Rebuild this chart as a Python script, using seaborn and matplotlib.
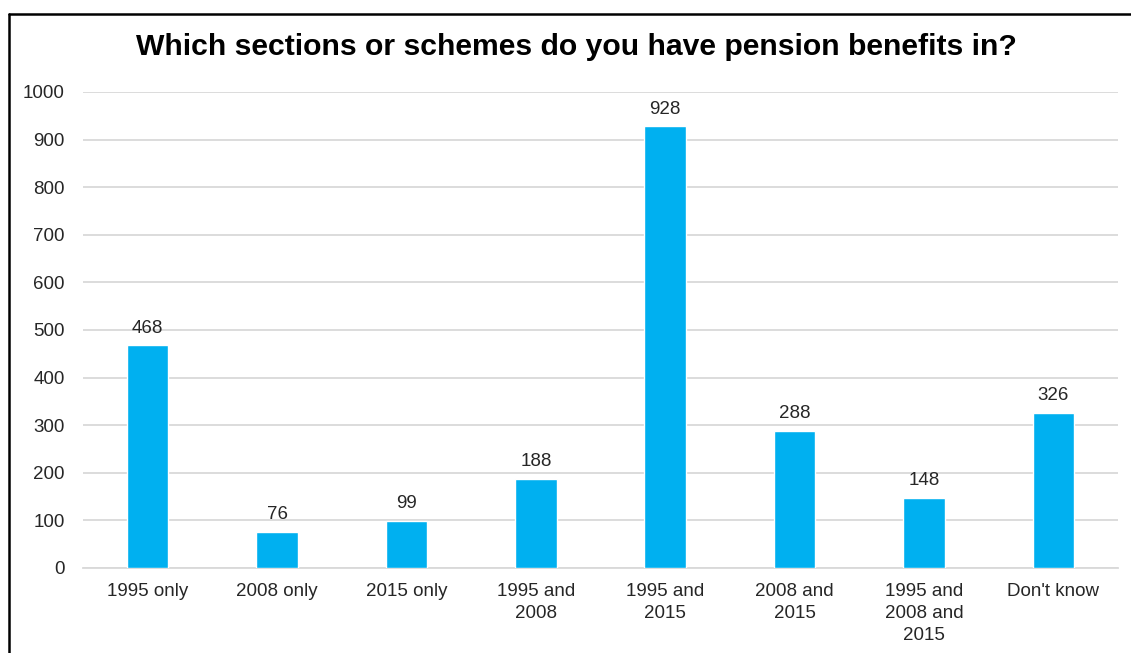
import matplotlib
matplotlib.use("Agg")
import matplotlib.pyplot as plt
from matplotlib.lines import Line2D
import seaborn as sns
import pandas as pd

categories = ["1995 only", "2008 only", "2015 only", "1995 and\n2008",
              "1995 and\n2015", "2008 and\n2015", "1995 and\n2008 and\n2015",
              "Don't know"]
counts = [468, 76, 99, 188, 928, 288, 148, 326]
y_ticks = [0, 100, 200, 300, 400, 500, 600, 700, 800, 900, 1000]

sns.set_theme(style="white")
plt.rcParams["font.family"] = ["Liberation Sans", "DejaVu Sans"]

df = pd.DataFrame({"category": categories, "count": counts})

fig = plt.figure(figsize=(11.31, 6.53), dpi=100)
ax = fig.add_axes([83 / 1131, 1 - 568 / 653, (1118 - 83) / 1131, (568 - 92) / 653])

sns.barplot(data=df, x="category", y="count", color="#00B0F0", width=0.32,
            saturation=1, ax=ax, zorder=3)

ax.set_ylim(0, 1000)
ax.set_xlim(-0.5, len(categories) - 0.5)
ax.set_yticks(y_ticks)
ax.yaxis.grid(True, color="#d9d9d9", linewidth=1.3, zorder=0)
ax.set_axisbelow(True)
for s in ["top", "right", "left"]:
    ax.spines[s].set_visible(False)
ax.spines["bottom"].set_color("#d9d9d9")
ax.spines["bottom"].set_linewidth(1.3)
ax.set_xlabel("")
ax.set_ylabel("")
ax.tick_params(axis="both", length=0, labelsize=13.5, colors="#262626")
ax.tick_params(axis="y", pad=13)
ax.tick_params(axis="x", pad=11)
for lbl in ax.get_xticklabels():
    lbl.set_linespacing(1.38)

for i, v in enumerate(counts):
    ax.text(i, v + 18, str(v), ha="center", va="bottom", fontsize=13.5,
            color="#262626")

fig.text(576 / 1131, 1 - 47 / 653, "Which sections or schemes do you have pension benefits in?",
         ha="center", va="center", fontsize=21.7, fontweight="bold", color="black")

# chart frame: left and top edges
fig.add_artist(Line2D([9 / 1131, 9 / 1131], [0, 1 - 14 / 653], transform=fig.transFigure,
                      color="black", linewidth=1.8))
fig.add_artist(Line2D([9 / 1131, 1], [1 - 14 / 653, 1 - 14 / 653], transform=fig.transFigure,
                      color="black", linewidth=1.8))

fig.savefig("out.png", dpi=100, facecolor="white")
